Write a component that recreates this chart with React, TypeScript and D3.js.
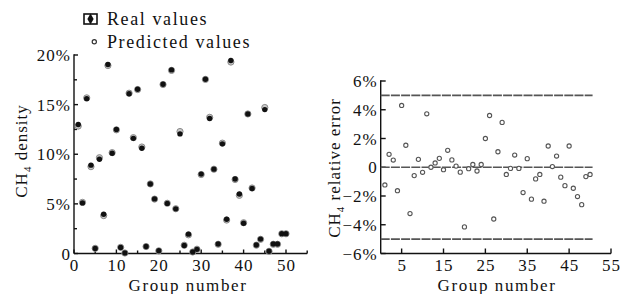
import React from 'react'
import * as d3 from 'd3'

// group numbers 1..50
const groups = [
  1, 2, 3, 4, 5, 6, 7, 8, 9, 10, 11, 12, 13, 14, 15, 16, 17, 18, 19, 20, 21, 22, 23, 24, 25,
  26, 27, 28, 29, 30, 31, 32, 33, 34, 35, 36, 37, 38, 39, 40, 41, 42, 43, 44, 45, 46, 47, 48, 49, 50,
]

// CH4 density, %
const realValues = [
  13.0, 5.1, 15.6, 8.9, 0.5, 9.5, 3.95, 19.05, 10.1, 12.5, 0.6, 0.05, 16.1, 11.6, 16.55, 10.6, 0.7, 7.0, 5.5, 0.28,
  17.05, 5.05, 18.5, 4.5, 12.05, 0.8, 1.95, 0.15, 0.42, 8.0, 17.55, 13.6, 8.5, 0.95, 11.05, 3.45, 19.45, 7.5, 6.0, 3.05,
  14.05, 6.55, 0.85, 1.45, 14.5, 0.22, 0.95, 0.95, 2.0, 2.0,
]
const predictedValues = [
  12.84, 5.15, 15.68, 8.75, 0.52, 9.65, 3.82, 18.94, 10.16, 12.46, 0.62, 0.05, 16.15, 11.67, 16.52, 10.73, 0.7, 7.01, 5.48, 0.27,
  17.03, 5.06, 18.45, 4.51, 12.29, 0.83, 1.88, 0.15, 0.43, 7.96, 17.54, 13.72, 8.49, 0.93, 11.12, 3.37, 19.29, 7.46, 5.86, 3.1,
  14.06, 6.6, 0.84, 1.43, 14.71, 0.22, 0.93, 0.93, 1.99, 1.99,
]
// relative error, %
const relErrors = [
  -1.23, 0.9, 0.5, -1.63, 4.3, 1.53, -3.22, -0.58, 0.55, -0.35, 3.72, 0, 0.3, 0.62, -0.17, 1.18, 0.51, 0.08, -0.34, -4.15,
  -0.1, 0.19, -0.26, 0.19, 2.0, 3.6, -3.6, 1.08, 3.12, -0.5, -0.08, 0.85, -0.08, -1.76, 0.6, -2.22, -0.81, -0.5, -2.36, 1.48,
  0.05, 0.78, -0.69, -1.28, 1.48, -1.46, -2.04, -2.6, -0.65, -0.5,
]

const leftXTicks = [0, 10, 20, 30, 40, 50]
const leftXMinor = [5, 15, 25, 35, 45, 55]
const leftYTicks = [0, 5, 10, 15, 20]
const leftYMinor = [2.5, 7.5, 12.5, 17.5]
const rightXTicks = [5, 15, 25, 35, 45, 55]
const rightYTicks = [-6, -4, -2, 0, 2, 4, 6]
const limitLines = [-5, 0, 5]

const FONT = '"Liberation Serif", "Times New Roman", serif'

const pct = (v: number) => (v === 0 ? '0' : (v < 0 ? '\u2212' + Math.abs(v) : String(v)) + '%')

export default function App() {
  // left panel scales
  const xL = d3.scaleLinear().domain([0, 55]).range([74, 307.2])
  const yL = d3.scaleLinear().domain([0, 20]).range([253.5, 55])
  // right panel scales
  const xR = d3.scaleLinear().domain([0, 55]).range([380.7, 611])
  const yR = d3.scaleLinear().domain([-6, 6]).range([253.5, 81])

  const diamond = d3.symbol().type(d3.symbolDiamond).size(34)
  const txt = { fontFamily: FONT, fontSize: 17, letterSpacing: 1, fill: '#111' }
  const legendTxt = { ...txt, fontSize: 18, letterSpacing: 1.6 }

  return (
    <svg width={621} height={294} style={{ position: 'absolute', left: 0, top: 0, background: '#fff' }}>
      {/* legend */}
      <rect x={84} y={14} width={13} height={10} fill="none" stroke="#111" strokeWidth={1.6} />
      <path d={diamond() as string} transform="translate(90.5,19)" fill="#111" />
      <text x={107} y={25} {...legendTxt}>Real  values</text>
      <circle cx={94.3} cy={41.7} r={2.1} fill="#fff" stroke="#333" strokeWidth={1.2} />
      <text x={107} y={47.5} {...legendTxt}>Predicted  values</text>

      {/* ---- left panel ---- */}
      <g stroke="#111" strokeWidth={1.4} fill="none">
        <line x1={xL(0)} x2={xL(0)} y1={yL(20) - 0.7} y2={yL(0)} />
        <line x1={xL(0)} x2={xL(55)} y1={yL(0)} y2={yL(0)} />
        {leftXTicks.map(t => <line key={'xt' + t} x1={xL(t)} x2={xL(t)} y1={yL(0)} y2={yL(0) - 4} />)}
        {leftXMinor.map(t => <line key={'xm' + t} x1={xL(t)} x2={xL(t)} y1={yL(0)} y2={yL(0) - 3} />)}
        {leftYTicks.map(t => <line key={'yt' + t} x1={xL(0)} x2={xL(0) + 4} y1={yL(t)} y2={yL(t)} />)}
        {leftYMinor.map(t => <line key={'ym' + t} x1={xL(0)} x2={xL(0) + 3} y1={yL(t)} y2={yL(t)} />)}
      </g>
      {leftXTicks.map(t => (
        <text key={'xl' + t} x={xL(t) + 0.5} y={271} textAnchor="middle" {...txt}>{t}</text>
      ))}
      {leftYTicks.map(t => (
        <text key={'yl' + t} x={xL(0) - 3} y={yL(t) + 6} textAnchor="end" {...txt}>{pct(t)}</text>
      ))}
      <text x={188} y={290.5} textAnchor="middle" {...txt} letterSpacing={1.6}>Group  number</text>
      <text transform="translate(27,151) rotate(-90)" textAnchor="middle" {...txt}>
        CH<tspan fontSize={11} dy={4}>4</tspan><tspan dy={-4}>  density</tspan>
      </text>

      {groups.map((g, i) => (
        <circle key={'p' + g} cx={xL(g)} cy={yL(predictedValues[i])} r={3.1} fill="#c8c8c8" stroke="#8a8a8a" strokeWidth={1} />
      ))}
      {groups.map((g, i) => (
        <circle key={'r' + g} cx={xL(g)} cy={yL(realValues[i])} r={2.7} fill="#111" />
      ))}

      {/* ---- right panel ---- */}
      <g stroke="#111" strokeWidth={1.4} fill="none">
        <line x1={xR(0)} x2={xR(0)} y1={yR(6) - 0.7} y2={yR(-6)} />
        <line x1={xR(0)} x2={xR(55)} y1={yR(-6)} y2={yR(-6)} />
        {rightXTicks.map(t => <line key={'rxt' + t} x1={xR(t)} x2={xR(t)} y1={yR(-6)} y2={yR(-6) - 5} />)}
        {rightYTicks.map(t => <line key={'ryt' + t} x1={xR(0)} x2={xR(0) + 5} y1={yR(t)} y2={yR(t)} />)}
      </g>
      {limitLines.map(v => (
        <line key={'lim' + v} x1={xR(0)} x2={xR(50.6)} y1={yR(v)} y2={yR(v)}
          stroke="#555" strokeWidth={1.6} strokeDasharray="9,1.2" />
      ))}
      {rightXTicks.map(t => (
        <text key={'rxl' + t} x={xR(t) + 0.5} y={271} textAnchor="middle" {...txt}>{t}</text>
      ))}
      {rightYTicks.map(t => (
        <text key={'ryl' + t} x={xR(0) - 3} y={yR(t) + 6} textAnchor="end" {...txt}>{pct(t)}</text>
      ))}
      <text x={497} y={290.5} textAnchor="middle" {...txt} letterSpacing={1.6}>Group  number</text>
      <text transform="translate(340,168) rotate(-90)" textAnchor="middle" {...txt}>
        CH<tspan fontSize={11} dy={4}>4</tspan><tspan dy={-4}>  relative error</tspan>
      </text>

      {groups.map((g, i) => (
        <circle key={'e' + g} cx={xR(g)} cy={yR(relErrors[i])} r={2.1} fill="#fff" stroke="#555" strokeWidth={1.1} />
      ))}
    </svg>
  )
}
